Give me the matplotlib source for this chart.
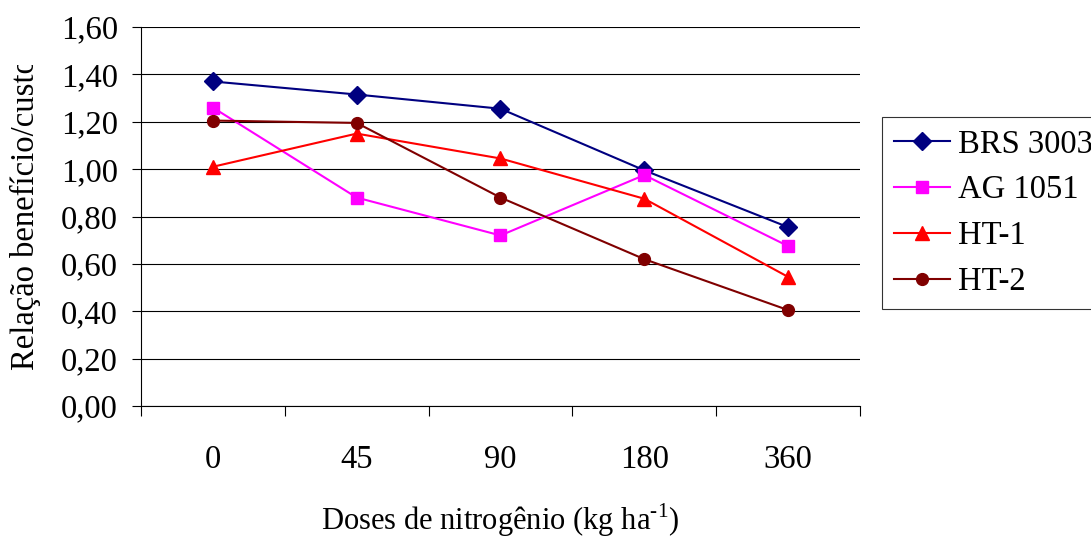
import matplotlib
matplotlib.use('Agg')
from matplotlib import pyplot as plt
from matplotlib.transforms import Bbox
from matplotlib.ticker import FixedLocator, FuncFormatter
import numpy as np

plt.rcParams['font.family'] = ['Liberation Serif', 'DejaVu Serif']
plt.rcParams['mathtext.fontset'] = 'custom'
plt.rcParams['mathtext.rm'] = 'Liberation Serif'

doses = ['0', '45', '90', '180', '360']
brs_3003 = [1.37, 1.315, 1.255, 0.995, 0.755]
ag_1051 = [1.26, 0.88, 0.72, 0.975, 0.675]
ht_1 = [1.01, 1.15, 1.045, 0.875, 0.545]
ht_2 = [1.205, 1.195, 0.88, 0.62, 0.405]

fig = plt.figure(figsize=(10.91, 5.41), dpi=100)
ax = fig.add_axes([0.1292, 0.2495, 0.6591, 0.7006])

x = np.arange(len(doses))
ax.plot(x, brs_3003, color='#000080', marker='D', markersize=9, lw=1.5, label='BRS 3003')
ax.plot(x, ag_1051, color='#FF00FF', marker='s', markersize=8.5, lw=1.5, label='AG 1051')
ax.plot(x, ht_1, color='#FF0000', marker='^', markersize=10, lw=1.5, label='HT-1')
ax.plot(x, ht_2, color='#800000', marker='o', markersize=8.5, lw=1.5, label='HT-2')

ax.set_xlim(-0.5, len(doses) - 0.5)
ax.set_ylim(0, 1.6)
ax.set_yticks(np.arange(0, 1.61, 0.2))
ax.yaxis.set_major_formatter(FuncFormatter(lambda v, p: f'{v:.2f}'.replace('.', ',')))
ax.grid(axis='y', color='black', lw=0.8)
ax.set_axisbelow(True)

# category labels centred, tick marks on the boundaries
ax.set_xticks(x)
ax.set_xticklabels(doses)
ax.xaxis.set_minor_locator(FixedLocator(np.arange(-0.5, len(doses), 1.0)))
ax.tick_params(axis='x', which='major', length=0, pad=28, labelsize=23.5)
ax.tick_params(axis='x', which='minor', length=7, width=0.8, direction='out')
ax.tick_params(axis='y', length=6.5, width=0.8, direction='out', pad=10, labelsize=23.5)

for s in ['top', 'right']:
    ax.spines[s].set_visible(False)
for s in ['left', 'bottom']:
    ax.spines[s].set_linewidth(0.8)

ax.set_xlabel('Doses de nitrogênio (kg ha$^{\\mathregular{\u20101}}$)', fontsize=22, labelpad=19)
yl = ax.set_ylabel('Relação benefício/custo', fontsize=23.5)
ax.yaxis.set_label_coords(-0.139, 0.509)
yl.set_clip_box(Bbox([[0, 0], [1091, 541 - 65]]))
yl.set_clip_on(True)

leg = fig.legend(loc='upper left', bbox_to_anchor=(0.8084, 0.7837), fontsize=23.5,
                 frameon=True, fancybox=False, edgecolor='black', borderaxespad=0,
                 handlelength=1.7, handletextpad=0.25, labelspacing=0.47,
                 borderpad=0.37)
leg.get_frame().set_linewidth(0.8)

fig.savefig('out.png', dpi=100)
